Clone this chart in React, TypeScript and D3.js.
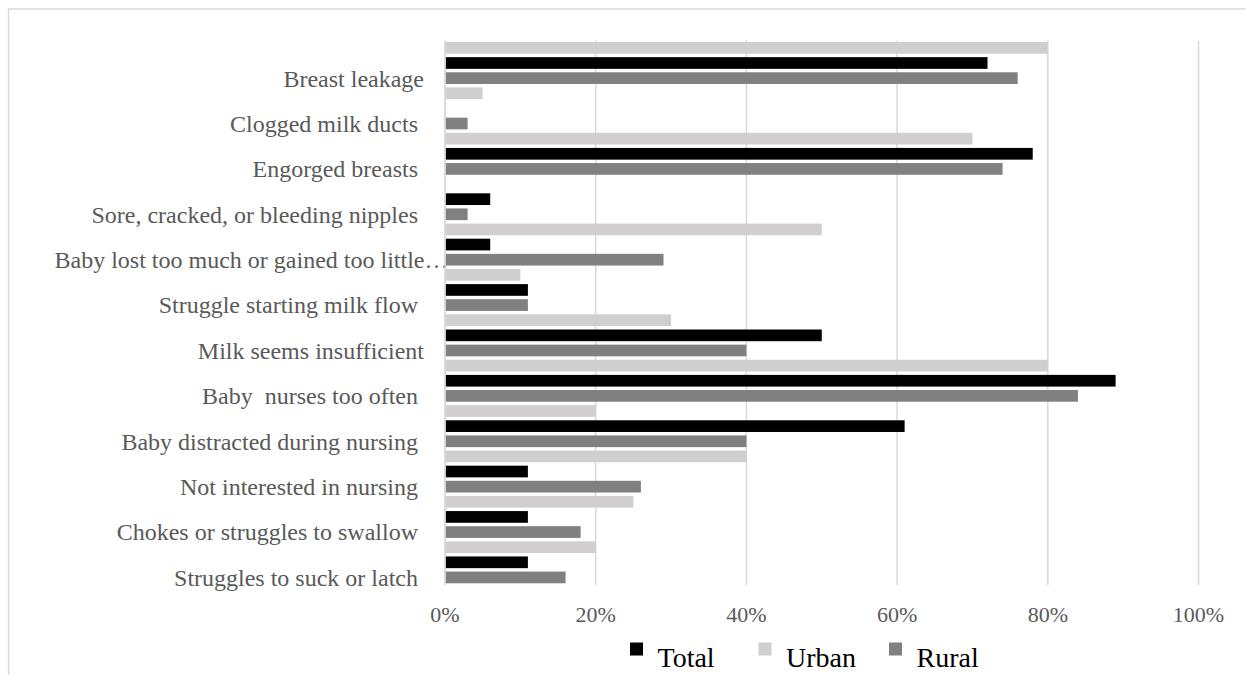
import React from "react";
import * as d3 from "d3";

const categories = [
  "Breast leakage",
  "Clogged milk ducts ",
  "Engorged breasts ",
  "Sore, cracked, or bleeding nipples ",
  "Baby lost too much or gained too little…",
  "Struggle starting milk flow ",
  "Milk seems insufficient",
  "Baby  nurses too often ",
  "Baby distracted during nursing ",
  "Not interested in nursing ",
  "Chokes or struggles to swallow ",
  "Struggles to suck or latch ",
];

const seriesNames = ["Urban", "Total", "Rural"];
const urban = [0.8, 0.05, 0.7, 0, 0.5, 0.1, 0.3, 0.8, 0.2, 0.4, 0.25, 0.2];
const total = [0.72, 0, 0.78, 0.06, 0.06, 0.11, 0.5, 0.89, 0.61, 0.11, 0.11, 0.11];
const rural = [0.76, 0.03, 0.74, 0.03, 0.29, 0.11, 0.4, 0.84, 0.4, 0.26, 0.18, 0.16];
const xTicks = [0, 0.2, 0.4, 0.6, 0.8, 1.0];
const legendOrder = ["Total", "Urban", "Rural"];

const colors: Record<string, string> = {
  Total: "#000000",
  Urban: "#D0CECE",
  Rural: "#808080",
};

const values: Record<string, number[]> = { Urban: urban, Total: total, Rural: rural };

const FONT = "'Liberation Serif', 'Times New Roman', serif";

export default function App() {
  const x = d3.scaleLinear().domain([0, 1]).range([445, 1198.5]);
  const y = d3.scaleBand<string>().domain(categories).range([40.3, 585]).padding(0);
  const sub = d3
    .scaleBand<string>()
    .domain(seriesNames)
    .range([0, y.bandwidth()])
    .paddingInner(0.227)
    .paddingOuter(0.1135);
  const fmt = d3.format(".0%");

  const legendX = [630, 758.5, 889];

  return (
    <svg
      width={1246}
      height={675}
      style={{ position: "absolute", left: 0, top: 0, background: "#fff" }}
      fontFamily={FONT}
    >
      <rect x={0} y={0} width={1246} height={675} fill="#fff" />
      {/* chart border */}
      <line x1={8} x2={1246} y1={9} y2={9} stroke="#D9D9D9" strokeWidth={1.5} />
      <line x1={8.5} x2={8.5} y1={9} y2={675} stroke="#D9D9D9" strokeWidth={1.5} />

      {/* gridlines */}
      {xTicks.slice(1).map((t) => (
        <line
          key={t}
          x1={x(t)}
          x2={x(t)}
          y1={40.5}
          y2={585}
          stroke="#D9D9D9"
          strokeWidth={1.5}
        />
      ))}

      {/* category labels */}
      {categories.map((c, i) => {
        const cy = (y(c) as number) + (sub("Rural") as number) + sub.bandwidth() / 2;
        const truncated = c.endsWith("…");
        return (
          <text
            key={i}
            x={truncated ? 54.5 : 424}
            y={cy}
            dy="0.35em"
            textAnchor={truncated ? "start" : "end"}
            fontSize={24}
            fill="#595959"
            style={{ whiteSpace: "pre" }}
          >
            {c}
          </text>
        );
      })}

      {/* bars */}
      {categories.map((c, i) => (
        <g key={i}>
          {seriesNames.map((s) => {
            const v = values[s][i];
            if (!v) return null;
            return (
              <rect
                key={s}
                x={x(0) + 0.7}
                y={(y(c) as number) + (sub(s) as number)}
                width={x(v) - x(0) - 0.7}
                height={sub.bandwidth()}
                fill={colors[s]}
              />
            );
          })}
        </g>
      ))}

      {/* axis line */}
      <line x1={x(0)} x2={x(0)} y1={40.5} y2={585} stroke="#D0D0D0" strokeWidth={1.5} />

      {/* x tick labels */}
      {xTicks.map((t) => (
        <text
          key={t}
          x={x(t)}
          y={622}
          textAnchor="middle"
          fontSize={22}
          fill="#595959"
        >
          {fmt(t)}
        </text>
      ))}

      {/* legend */}
      {legendOrder.map((s, i) => (
        <g key={s}>
          <rect x={legendX[i]} y={642.5} width={13} height={13} fill={colors[s]} />
          <text x={legendX[i] + 27.5} y={667} fontSize={28} fill="#000">
            {s}
          </text>
        </g>
      ))}
    </svg>
  );
}
